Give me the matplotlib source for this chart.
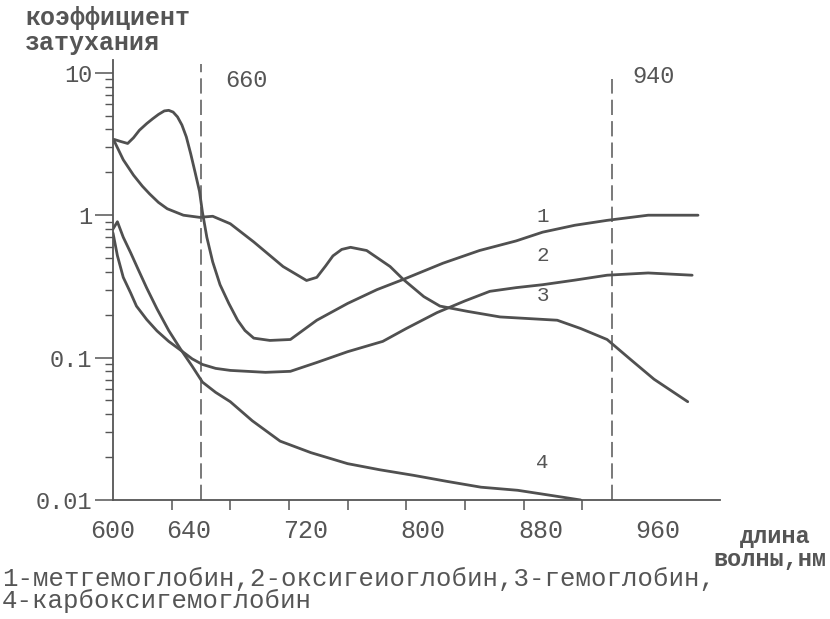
import numpy as np
import matplotlib.pyplot as plt
from matplotlib.ticker import LogLocator, NullFormatter
from matplotlib.transforms import ScaledTranslation

plt.rcParams['font.family'] = ['Liberation Mono', 'DejaVu Sans Mono']

# curve 1 - methemoglobin
wl1 = [600, 601, 605, 610, 614, 618, 623, 627, 631, 635, 638, 641, 644, 647, 650, 653,
       656, 659, 661, 664, 668, 673, 679, 685, 690, 696, 707, 721, 739, 760, 780, 798,
       825, 850, 875, 893, 915, 937, 965, 999]
k1 = [3.4, 3.4, 3.3, 3.19, 3.5, 3.95, 4.4, 4.75, 5.1, 5.4, 5.45, 5.3, 4.9, 4.3, 3.55,
      2.7, 2.0, 1.47, 1.05, 0.70, 0.47, 0.325, 0.24, 0.183, 0.155, 0.137, 0.132, 0.134,
      0.183, 0.24, 0.30, 0.354, 0.46, 0.565, 0.66, 0.76, 0.85, 0.92, 1.0, 1.0]

# curve 2 - oxyhemoglobin
wl2 = [600, 603, 607, 612, 616, 623, 630, 638, 646, 654, 661, 670, 680, 704, 721, 739,
       760, 784, 800, 821, 840, 857, 875, 893, 915, 937, 965, 995]
k2 = [0.75, 0.52, 0.366, 0.285, 0.23, 0.185, 0.154, 0.13, 0.113, 0.098, 0.0895, 0.084,
      0.0813, 0.0788, 0.0801, 0.0924, 0.11, 0.13, 0.16, 0.207, 0.25, 0.292, 0.31, 0.325,
      0.35, 0.379, 0.393, 0.379]

# curve 3 - hemoglobin
wl3 = [600, 601, 607, 614, 620, 625, 631, 637, 648, 659, 668, 680, 696, 716, 732, 739,
       745, 750, 756, 762, 773, 789, 798, 812, 823, 842, 864, 903, 919, 937, 953, 969, 992]
k3 = [3.4, 3.29, 2.45, 1.91, 1.6, 1.41, 1.23, 1.11, 1.0, 0.966, 0.983, 0.871, 0.649,
      0.436, 0.348, 0.366, 0.44, 0.518, 0.575, 0.595, 0.565, 0.436, 0.354, 0.268, 0.23,
      0.211, 0.193, 0.183, 0.16, 0.134, 0.097, 0.0705, 0.049]

# curve 4 - carboxyhemoglobin
wl4 = [600, 603, 607, 612, 617, 623, 630, 638, 646, 654, 661, 670, 680, 695, 714, 735,
       760, 782, 805, 828, 851, 876, 898, 919]
k4 = [0.8, 0.9, 0.7, 0.546, 0.42, 0.308, 0.22, 0.155, 0.115, 0.087, 0.0673, 0.057, 0.049,
      0.036, 0.0259, 0.0215, 0.018, 0.0163, 0.0149, 0.0135, 0.0123, 0.0117, 0.0108, 0.01]

curves = [(wl1, k1), (wl2, k2), (wl3, k3), (wl4, k4)]
curve_names = ['1', '2', '3', '4']
curve_label_pos = [(893, 0.98), (893, 0.52), (893, 0.273), (893, 0.0183)]

x_labels = ['600', '640', '720', '800', '880', '960']
x_minor = [640, 680, 720, 760, 800, 840, 880, 920]
y_ticks = [0.01, 0.1, 1, 10]
y_labels = ['0.01', '0.1', '1', '10']
marks = [660, 940]

ink = '#555555'

fig = plt.figure(figsize=(8.3, 6.19), dpi=100)
ax = fig.add_axes([113 / 830, 1 - 500 / 619, 607 / 830, 440 / 619])

for wl, k in curves:
    ax.plot(wl, k, color='#505050', lw=2.0, solid_capstyle='round', solid_joinstyle='round')

ax.vlines(marks[0], 0.01, 11.6, colors=ink, linestyles=(0, (10, 4)), lw=1.1)
ax.vlines(marks[1], 0.01, 9.0, colors=ink, linestyles=(0, (10, 4)), lw=1.1)
ax.text(691, 8.9, str(marks[0]), fontsize=17, color=ink, ha='center', va='center')
ax.text(969, 9.4, str(marks[1]), fontsize=17, color=ink, ha='center', va='center')

for name, (xx, yy) in zip(curve_names, curve_label_pos):
    ax.text(xx, yy, name, fontsize=15, color=ink, ha='center', va='center')

ax.set_yscale('log')
ax.set_xlim(600, 1014)
ax.set_ylim(0.01, 12.3)

for s in ['top', 'right']:
    ax.spines[s].set_visible(False)
for s in ['left', 'bottom']:
    ax.spines[s].set_color(ink)
    ax.spines[s].set_linewidth(1.3)

ax.xaxis.remove_overlapping_locs = False
ax.set_xticks([int(v) for v in x_labels], x_labels)
ax.set_xticks(x_minor, minor=True)
ax.tick_params(axis='x', which='major', length=0, pad=14, labelsize=18, labelcolor=ink)
ax.tick_params(axis='x', which='minor', length=7, width=1.1, color=ink, direction='out')

ax.set_yticks(y_ticks, y_labels)
ax.yaxis.set_minor_locator(LogLocator(base=10, subs=np.arange(2, 10)))
ax.yaxis.set_minor_formatter(NullFormatter())
ax.tick_params(axis='y', which='major', length=13, width=1.1, color=ink, pad=2,
               labelsize=17, labelcolor=ink)
ax.tick_params(axis='y', which='minor', length=6, width=1.0, color=ink, direction='out')

shift = ScaledTranslation(0.17, 0, fig.dpi_scale_trans)
for lab in ax.get_xticklabels()[1:]:
    lab.set_transform(lab.get_transform() + shift)

fig.text(25 / 830, 1 - 18 / 619, 'коэффициент', fontsize=18, fontweight='bold',
         color=ink, va='center', ha='left')
fig.text(25 / 830, 1 - 43 / 619, 'затухания', fontsize=18, fontweight='bold',
         color=ink, va='center', ha='left')

fig.text(810 / 830, 1 - 537 / 619, 'длина', fontsize=17, fontweight='bold',
         color=ink, va='center', ha='right')
fig.text(826 / 830, 1 - 560 / 619, 'волны,нм', fontsize=17, fontweight='bold',
         color=ink, va='center', ha='right')

fig.text(2 / 830, 1 - 579 / 619, '1-метгемоглобин,2-оксигеиоглобин,3-гемоглобин,',
         fontsize=18.5, color=ink, va='center', ha='left')
fig.text(2 / 830, 1 - 601 / 619, '4-карбоксигемоглобин',
         fontsize=18.5, color=ink, va='center', ha='left')

fig.savefig('out.png', dpi=100, facecolor='white')
